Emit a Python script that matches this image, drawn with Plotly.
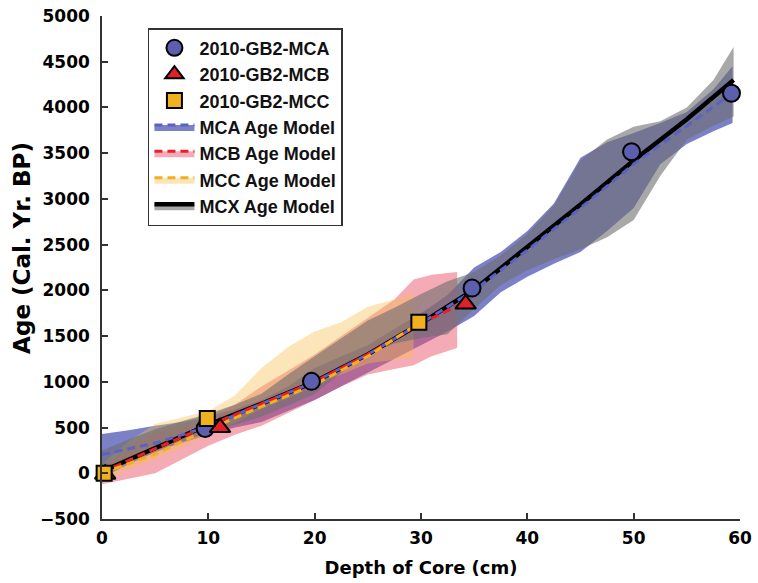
import plotly.graph_objects as go

# ---------------- data ----------------
# radiocarbon dates (markers)
mca_depth = [9.7, 19.7, 34.8, 49.8, 59.2]
mca_age = [490, 1005, 2025, 3515, 4155]
mcb_depth = [0.3, 11.1, 34.2]
mcb_age = [-10, 500, 1850]
mcc_depth = [0.2, 9.9, 29.8]
mcc_age = [0, 600, 1650]

# age-model median lines
mca_line_depth = [0, 5, 10, 15, 20, 25, 30, 35, 40, 45, 50, 55, 59.2]
mca_line_age = [205, 330, 510, 760, 1000, 1300, 1640, 2000, 2440, 2900, 3380, 3800, 4150]
mcb_line_depth = [0, 5, 10, 15, 20, 25, 30, 34.2]
mcb_line_age = [10, 270, 520, 760, 1000, 1300, 1640, 1870]
mcc_line_depth = [0, 5, 10, 15, 20, 25, 29.5]
mcc_line_age = [0, 210, 480, 730, 970, 1280, 1620]
mcx_line_depth = [0, 5, 10, 15, 20, 25, 30, 35, 40, 45, 50, 55, 59.4]
mcx_line_age = [20, 280, 530, 760, 1000, 1300, 1640, 2010, 2470, 2940, 3420, 3870, 4300]

# age-model uncertainty envelopes
mca_band_depth = [0, 2.5, 5, 7.5, 10, 12.5, 15, 17.5, 20, 22.5, 25, 27.5, 30, 32.5, 35,
                  37.5, 40, 42.5, 45, 47.5, 50, 52.5, 55, 57.5, 59.3]
mca_band_upper = [430, 470, 520, 560, 620, 700, 800, 950, 1150, 1280, 1400, 1580, 1750, 1950, 2250,
                  2420, 2650, 2950, 3450, 3620, 3720, 3830, 3950, 4200, 4450]
mca_band_lower = [0, 120, 250, 330, 420, 500, 560, 680, 800, 950, 1100, 1250, 1400, 1550, 1720,
                  1980, 2150, 2290, 2420, 2650, 2900, 3380, 3600, 3740, 3830]

mcx_band_depth = [0, 2.5, 5, 7.5, 10, 12.5, 15, 17.5, 20, 22.5, 25, 27.5, 30, 32.5, 35,
                  37.5, 40, 42.5, 45, 47.5, 50, 52.5, 55, 57.5, 59.4]
mcx_band_upper = [250, 370, 480, 570, 650, 750, 870, 1080, 1280, 1480, 1670, 1810, 1960, 2100, 2200,
                  2380, 2620, 2930, 3420, 3650, 3790, 3850, 4000, 4300, 4660]
mcx_band_lower = [-50, 100, 230, 340, 450, 530, 620, 740, 870, 1100, 1300, 1420, 1480, 1520, 1800,
                  2060, 2220, 2340, 2450, 2580, 2770, 3250, 3650, 3800, 3900]

mcb_band_depth = [0, 2.5, 5, 7.5, 10, 12.5, 15, 17.5, 20, 22.5, 25, 27.5, 29.3, 31, 33.4]
mcb_band_upper = [50, 300, 450, 530, 620, 750, 950, 1120, 1300, 1500, 1700, 1900, 2120, 2170, 2200]
mcb_band_lower = [-120, -60, 0, 150, 300, 420, 520, 660, 800, 950, 1080, 1140, 1180, 1280, 1370]

mcc_band_depth = [0, 2.5, 5, 7.5, 10, 12.5, 15, 17.5, 20, 22.5, 25, 27.5, 29.3]
mcc_band_upper = [100, 350, 540, 610, 680, 850, 1150, 1380, 1550, 1650, 1820, 1900, 1970]
mcc_band_lower = [-100, 40, 150, 280, 420, 550, 700, 820, 950, 1080, 1200, 1240, 1260]

x_ticks = [0, 10, 20, 30, 40, 50, 60]
y_ticks = [-500, 0, 500, 1000, 1500, 2000, 2500, 3000, 3500, 4000, 4500, 5000]

# ---------------- styles ----------------
BLUE_BAND = "rgba(80,85,180,0.75)"
PINK_BAND = "rgba(235,80,100,0.48)"
YELLOW_BAND = "rgba(245,190,80,0.40)"
GREY_BAND = "rgba(110,110,110,0.60)"
BLUE_LINE = "#5a62c4"
RED_LINE = "#e8202a"
YELLOW_LINE = "#f2b01e"
DASH = "8px,5px"

fig = go.Figure()


def band(depth, upper, lower, color):
    fig.add_trace(go.Scatter(
        x=list(depth) + list(depth)[::-1],
        y=list(upper) + list(lower)[::-1],
        fill="toself", fillcolor=color, mode="lines",
        line=dict(width=0), hoverinfo="skip", showlegend=False))


band(mca_band_depth, mca_band_upper, mca_band_lower, BLUE_BAND)
band(mcb_band_depth, mcb_band_upper, mcb_band_lower, PINK_BAND)
band(mcc_band_depth, mcc_band_upper, mcc_band_lower, YELLOW_BAND)
band(mcx_band_depth, mcx_band_upper, mcx_band_lower, GREY_BAND)

# model lines
fig.add_trace(go.Scatter(x=mcx_line_depth, y=mcx_line_age, mode="lines",
                         line=dict(color="black", width=4.5), showlegend=False))
fig.add_trace(go.Scatter(x=mca_line_depth, y=mca_line_age, mode="lines",
                         line=dict(color=BLUE_LINE, width=3, dash=DASH), showlegend=False))
fig.add_trace(go.Scatter(x=mcb_line_depth, y=mcb_line_age, mode="lines",
                         line=dict(color=RED_LINE, width=3, dash=DASH), showlegend=False))
fig.add_trace(go.Scatter(x=mcc_line_depth, y=mcc_line_age, mode="lines",
                         line=dict(color=YELLOW_LINE, width=3, dash=DASH), showlegend=False))

# data markers
fig.add_trace(go.Scatter(x=mca_depth, y=mca_age, mode="markers", name="2010-GB2-MCA",
                         marker=dict(symbol="circle", size=17, color="#5b5fae",
                                     line=dict(color="black", width=2)),
                         cliponaxis=False, legendrank=1))
fig.add_trace(go.Scatter(x=mcb_depth, y=mcb_age, mode="markers", name="2010-GB2-MCB",
                         marker=dict(symbol="triangle-up", size=18, color="#e0202a",
                                     line=dict(color="black", width=2)),
                         cliponaxis=False, legendrank=2))
fig.add_trace(go.Scatter(x=mcc_depth, y=mcc_age, mode="markers", name="2010-GB2-MCC",
                         marker=dict(symbol="square", size=15, color="#f0b020",
                                     line=dict(color="black", width=2)),
                         cliponaxis=False, legendrank=3))

# legend-only entries for the age models
for nm, fc, lc, dash, w, rk in [
    ("MCA Age Model", BLUE_BAND, BLUE_LINE, DASH, 3, 4),
    ("MCB Age Model", PINK_BAND, RED_LINE, DASH, 3, 5),
    ("MCC Age Model", YELLOW_BAND, YELLOW_LINE, DASH, 3, 6),
    ("MCX Age Model", GREY_BAND, "black", "solid", 4.5, 7),
]:
    fig.add_trace(go.Scatter(x=[None], y=[None], mode="lines", fill="toself",
                             fillcolor=fc, line=dict(color=lc, width=w, dash=dash),
                             name=nm, legendrank=rk))

TICKFONT = dict(family="DejaVu Sans", size=17, color="black", weight="bold")

fig.update_layout(
    width=758, height=583,
    margin=dict(l=102, r=18, t=16, b=64, autoexpand=False),
    paper_bgcolor="white", plot_bgcolor="white",
    showlegend=True,
    legend=dict(
        x=0.072, y=0.976, xanchor="left", yanchor="top",
        bgcolor="white", bordercolor="#333333", borderwidth=1.5,
        font=dict(family="Liberation Sans", size=18, color="#111111", weight="bold"),
        itemwidth=40, traceorder="normal",
    ),
    annotations=[dict(
        text="Age (Cal. Yr. BP)", textangle=-90,
        xref="paper", yref="paper", x=-0.1254, y=0.539,
        xanchor="center", yanchor="middle", showarrow=False,
        font=dict(family="DejaVu Sans", size=23, color="black", weight="bold"),
    )],
)
fig.update_xaxes(
    range=[0, 60], tickvals=x_ticks, ticks="inside", ticklen=6, tickwidth=1.5,
    tickcolor="#333333", showline=True, linecolor="#333333", linewidth=1.5,
    showgrid=False, zeroline=False, tickfont=TICKFONT, ticklabelstandoff=3,
    automargin=False, ticklabeloverflow="allow",
    title=dict(text="Depth of Core (cm)",
               font=dict(family="DejaVu Sans", size=18, color="black", weight="bold"),
               standoff=14),
)
fig.update_yaxes(
    range=[-500, 5000], tickvals=y_ticks, ticks="inside", ticklen=6, tickwidth=1.5,
    tickcolor="#333333", showline=True, linecolor="#333333", linewidth=1.5,
    showgrid=False, zeroline=False, tickfont=TICKFONT, ticklabelstandoff=7,
    automargin=False, ticklabeloverflow="allow",
)

# remove the default 8 px page margin so the 758x583 figure fills the window
fig.write_html("out.html",
               config={"displayModeBar": False},
               post_script="document.body.style.margin='0';document.body.style.overflow='hidden';")
